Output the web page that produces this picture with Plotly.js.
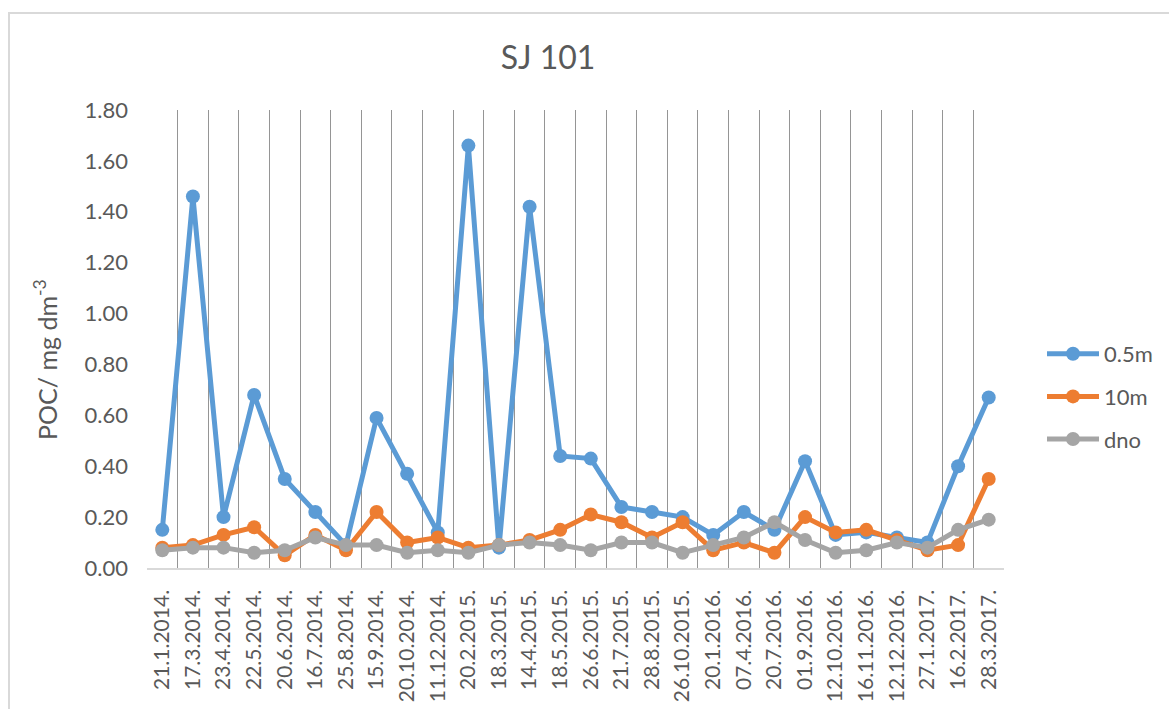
<!DOCTYPE html>
<html>
<head>
<meta charset="utf-8">
<script src="https://cdn.plot.ly/plotly-3.0.1.min.js"></script>
<style>html,body{margin:0;padding:0;background:#fff;}#chart{width:1169px;height:709px;}</style>
</head>
<body>
<div id="chart"></div>
<script>
const dates = ["21.1.2014.","17.3.2014.","23.4.2014.","22.5.2014.","20.6.2014.","16.7.2014.","25.8.2014.","15.9.2014.","20.10.2014.","11.12.2014.","20.2.2015.","18.3.2015.","14.4.2015.","18.5.2015.","26.6.2015.","21.7.2015.","28.8.2015.","26.10.2015.","20.1.2016.","07.4.2016.","20.7.2016.","01.9.2016.","12.10.2016.","16.11.2016.","12.12.2016.","27.1.2017.","16.2.2017.","28.3.2017."];
const poc05m = [0.15,1.46,0.20,0.68,0.35,0.22,0.09,0.59,0.37,0.14,1.66,0.08,1.42,0.44,0.43,0.24,0.22,0.20,0.13,0.22,0.15,0.42,0.13,0.14,0.12,0.10,0.40,0.67];
const poc10m = [0.08,0.09,0.13,0.16,0.05,0.13,0.07,0.22,0.10,0.12,0.08,0.09,0.11,0.15,0.21,0.18,0.12,0.18,0.07,0.10,0.06,0.20,0.14,0.15,0.11,0.07,0.09,0.35];
const pocDno = [0.07,0.08,0.08,0.06,0.07,0.12,0.09,0.09,0.06,0.07,0.06,0.09,0.10,0.09,0.07,0.10,0.10,0.06,0.09,0.12,0.18,0.11,0.06,0.07,0.10,0.08,0.15,0.19];
const seriesNames = ["0.5m","10m","dno"];
const colors = ["#5B9BD5","#ED7D31","#A5A5A5"];

const FONT = "Lato, 'Open Sans', sans-serif";
const TXT = "#595959";
const vals = [poc05m, poc10m, pocDno];
const traces = vals.map((v,i)=>({
  type:"scatter", mode:"lines+markers", x:dates, y:v, name:seriesNames[i],
  legendgroup:"g"+i,
  line:{color:colors[i], width:5},
  marker:{color:colors[i], size:14}
}));

const layout = {
  width:1169, height:709,
  margin:{l:147, r:165, t:110, b:141, autoexpand:false},
  paper_bgcolor:"#fff", plot_bgcolor:"#fff",
  font:{family:FONT, color:TXT, size:21},
  title:{text:"SJ 101", font:{family:FONT, size:32, color:TXT}, x:548/1169, xref:"container", xanchor:"center", y:1-58/709, yref:"container", yanchor:"middle"},
  showlegend:true,
  legend:{x:(1042-147)/857, xanchor:"left", y:(568-333)/458, yanchor:"top", font:{family:FONT, size:22, color:TXT}, tracegroupgap:11, itemwidth:52, bgcolor:"rgba(0,0,0,0)"},
  xaxis:{type:"category", range:[-0.5, 27.5], autorange:false, tickson:"boundaries", showgrid:true, gridcolor:"#959595", gridwidth:1,
    showline:true, linecolor:"#D9D9D9", linewidth:1.5, ticks:"", tickangle:-90,
    tickfont:{family:FONT, size:21, color:TXT}, ticklabelstandoff:12, zeroline:false, fixedrange:true},
  yaxis:{range:[0,1.8], autorange:false, dtick:0.2, tick0:0, tickformat:".2f", showgrid:false, zeroline:false,
    showline:false, ticks:"", tickfont:{family:FONT, size:22, color:TXT}, ticklabelstandoff:18, fixedrange:true},
  annotations:[{text:"POC/ mg dm<sup>-3</sup>", xref:"paper", yref:"paper", x:(45-147)/857, y:(568-360)/458,
    xanchor:"center", yanchor:"middle", textangle:-90, showarrow:false, font:{family:FONT, size:25, color:TXT}}],
  shapes:[{type:"rect", xref:"paper", yref:"paper", x0:(9-147)/857, x1:(1180-147)/857, y0:(568-720)/458, y1:(568-13)/458,
    line:{color:"#D9D9D9", width:2}, fillcolor:"rgba(0,0,0,0)", layer:"below"}]
};
Plotly.newPlot("chart", traces, layout, {displayModeBar:false, staticPlot:true});
</script>
</body>
</html>
